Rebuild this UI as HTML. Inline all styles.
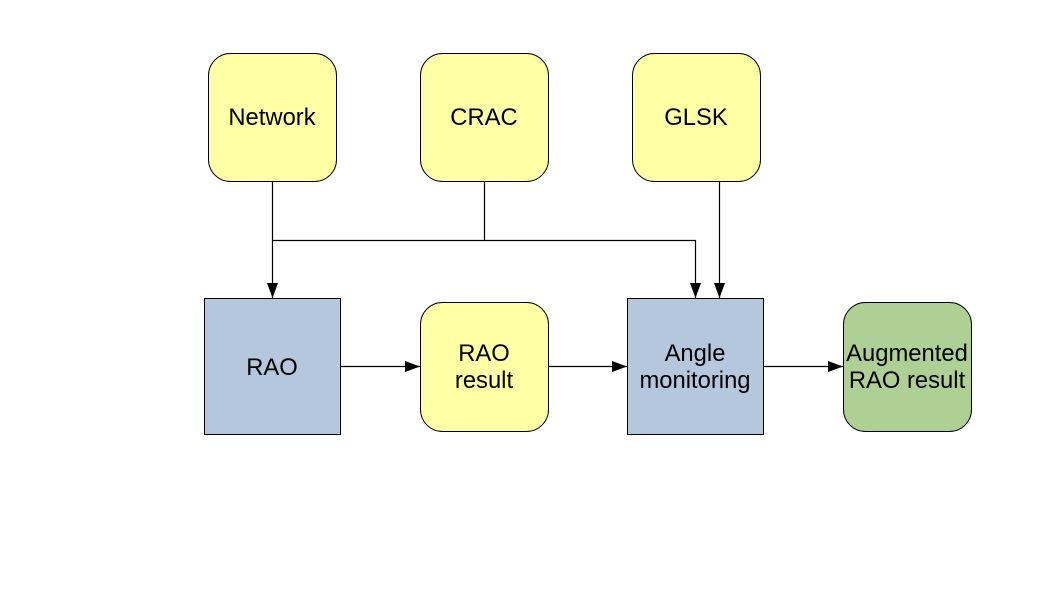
<!DOCTYPE html>
<html><head><style>body{margin:0;background:#fff}</style></head><body>
<svg width="1058" height="595" xmlns="http://www.w3.org/2000/svg" font-family="Liberation Sans, sans-serif" font-size="23.8">
<defs><marker id="a" markerWidth="15" markerHeight="11" refX="15" refY="5.5" orient="auto" markerUnits="userSpaceOnUse"><path d="M0,0L15,5.5L0,11z" fill="#000"/></marker></defs>
<g stroke="#000" stroke-width="1.2" fill="none">
<path d="M272.5,181V298" marker-end="url(#a)"/>
<path d="M484.5,181V240.5H695.5V298" marker-end="url(#a)"/>
<path d="M272,240.5H484"/>
<path d="M719.5,181V298" marker-end="url(#a)"/>
<path d="M340,366.5H420" marker-end="url(#a)"/>
<path d="M548,366.5H627" marker-end="url(#a)"/>
<path d="M763,366.5H843" marker-end="url(#a)"/>
</g>
<g stroke="#000" stroke-width="1">
<rect x="208.5" y="53.5" width="128" height="128" rx="22" fill="#ffffa6"/>
<rect x="420.5" y="53.5" width="128" height="128" rx="22" fill="#ffffa6"/>
<rect x="632.5" y="53.5" width="128" height="128" rx="22" fill="#ffffa6"/>
<rect x="204.5" y="298.5" width="136" height="136" fill="#b4c7dc"/>
<rect x="420.5" y="302.5" width="128" height="129" rx="22" fill="#ffffa6"/>
<rect x="627.5" y="298.5" width="136" height="136" fill="#b4c7dc"/>
<rect x="843.5" y="302.5" width="128" height="129" rx="22" fill="#afd095"/>
</g>
<g text-anchor="middle" fill="#000">
<text x="272" y="125">Network</text>
<text x="484" y="125">CRAC</text>
<text x="696" y="125">GLSK</text>
<text x="272" y="375">RAO</text>
<text x="484" y="361">RAO</text><text x="484" y="388">result</text>
<text x="695" y="361">Angle</text><text x="695" y="388">monitoring</text>
<text x="907" y="361">Augmented</text><text x="907" y="388">RAO result</text>
</g>
</svg>
</body></html>
